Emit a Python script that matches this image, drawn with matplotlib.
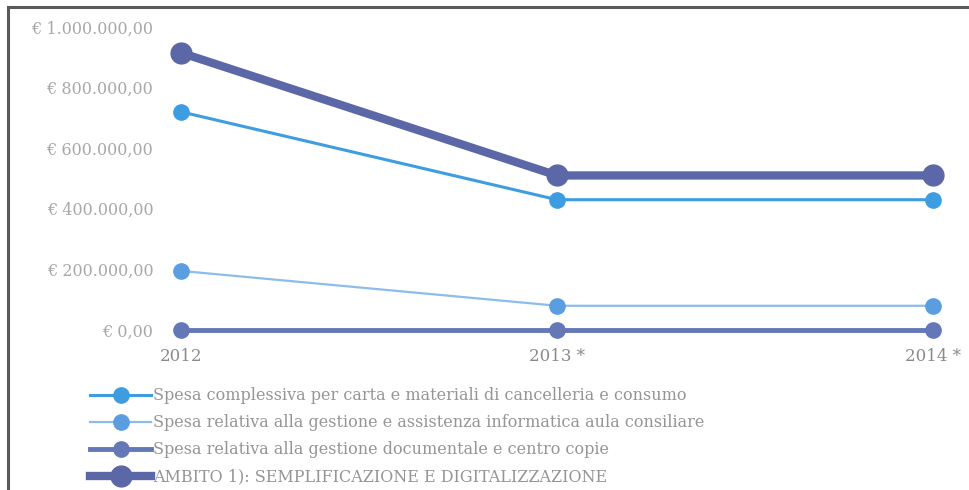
import matplotlib.pyplot as plt
from matplotlib.lines import Line2D

# spese per anno (euro)
anni = ['2012', '2013 *', '2014 *']
carta = [720000, 430000, 430000]
informatica = [195000, 80000, 80000]
documentale = [0, 0, 0]
ambito = [915000, 510000, 510000]

etichette = [
    'Spesa complessiva per carta e materiali di cancelleria e consumo',
    'Spesa relativa alla gestione e assistenza informatica aula consiliare',
    'Spesa relativa alla gestione documentale e centro copie',
    'AMBITO 1): SEMPLIFICAZIONE E DIGITALIZZAZIONE',
]
yticks = [0, 200000, 400000, 600000, 800000, 1000000]
ytick_lab = ['€ 0,00', '€ 200.000,00', '€ 400.000,00', '€ 600.000,00',
             '€ 800.000,00', '€ 1.000.000,00']

plt.rcParams['font.family'] = ['DejaVu Serif']

fig = plt.figure(figsize=(9.7, 4.9), dpi=100)
ax = fig.add_axes([181/970, 1-330/490, (933-181)/970, (330-27)/490])

x = range(len(anni))
# stile: (colore linea, colore marker, spessore, dimensione marker)
stili = [
    ('#3d9de0', '#3d9de0', 2.2, 11),
    ('#8cbcec', '#5a9ee0', 1.6, 11),
    ('#6478b8', '#6478b8', 3.5, 11),
    ('#5b67a6', '#5b67a6', 6.0, 15),
]
serie = [carta, informatica, documentale, ambito]
ordine = [2, 1, 0, 3]
linee = [None]*4
for i in ordine:
    lc, mc, lw, ms = stili[i]
    l, = ax.plot(x, serie[i], color=lc, lw=lw, marker='o', ms=ms,
                 mfc=mc, mec=mc, clip_on=False, zorder=3+i)
    linee[i] = l

ax.set_xlim(0, 2)
ax.set_ylim(0, 1000000)
ax.set_xticks(list(x))
ax.set_xticklabels(anni, fontsize=12, color='#8a8a8a')
ax.set_yticks(yticks)
ax.set_yticklabels(ytick_lab, fontsize=11.5, color='#a8a8a8')
ax.tick_params(length=0)
ax.tick_params(axis='y', pad=20)
ax.tick_params(axis='x', pad=13)
for s in ax.spines.values():
    s.set_visible(False)

leg = fig.legend(linee, etichette, loc='upper left',
                 bbox_to_anchor=(84/970, 1-381/490), frameon=False,
                 fontsize=11.5, handlelength=3.8, handletextpad=0.1,
                 labelspacing=0.62, borderaxespad=0)
for t in leg.get_texts():
    t.set_color('#959595')

# cornice del riquadro
fig.add_artist(Line2D([8/970, 8/970], [0, 1-7/490], color='#5a5a5a', lw=2.2))
fig.add_artist(Line2D([8/970, 1], [1-7/490, 1-7/490], color='#5a5a5a', lw=2.2))

fig.savefig('out.png', dpi=100, facecolor='white')
